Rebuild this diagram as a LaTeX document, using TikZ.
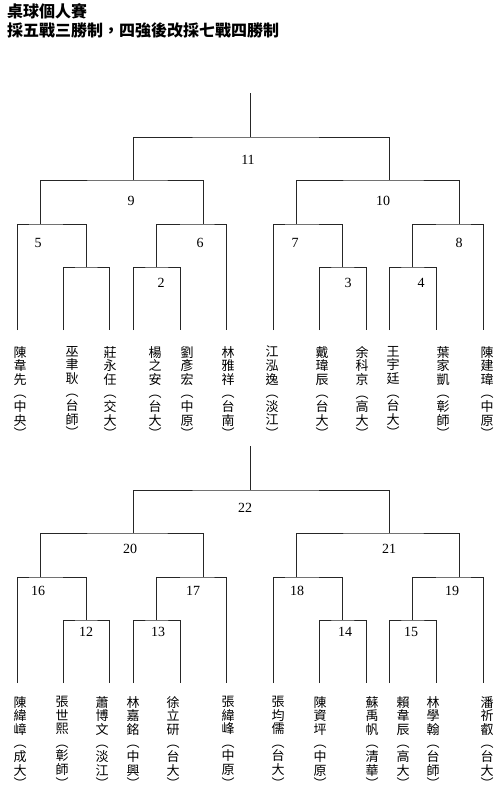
\documentclass[tikz,border=0pt]{standalone}
\usepackage{fontspec}
\setmainfont{Liberation Serif}
\newfontfamily\cjk{Noto Sans CJK TC}
\usetikzlibrary{positioning}
\tikzset{
  bracket/.style={draw=black!85, line width=0.8pt},
  roundlabel/.style={font=\fontsize{14}{14}\selectfont, inner sep=0pt},
  playername/.style={font=\cjk\fontsize{13}{13.6}\selectfont, align=center,
    anchor=north, inner sep=0pt},
  titletext/.style={font=\cjk\bfseries\fontsize{16}{16}\selectfont,
    anchor=north west, inner sep=0pt}
}
% one half of the draw: #1 is the prefix of the coordinate names
\newcommand{\drawtree}[1]{%
  \foreach \i/\x in {1/17,2/63,3/109,4/133,5/180,6/226,7/273,8/319,9/366,10/389,11/436,12/483}
    \coordinate (#1\i) at (\x,330);
  \coordinate (#1m1) at (86,267);
  \coordinate (#1m2) at (156.5,267);
  \coordinate (#1m3) at (342.5,267);
  \coordinate (#1m4) at (412.5,267);
  \coordinate (#1m5) at (40,224);
  \coordinate (#1m6) at (203,224);
  \coordinate (#1m7) at (296,224);
  \coordinate (#1m8) at (459,224);
  \coordinate (#1m9) at (133,180);
  \coordinate (#1m10) at (389,180);
  \coordinate (#1m11) at (250,137);
  \coordinate (#1top) at (250,93);
  \draw[bracket] (#12) |- (#1m1) -| (#13);
  \draw[bracket] (#14) |- (#1m2) -| (#15);
  \draw[bracket] (#18) |- (#1m3) -| (#19);
  \draw[bracket] (#110) |- (#1m4) -| (#111);
  \draw[bracket] (#11) |- (#1m5) -| (#1m1);
  \draw[bracket] (#1m2) |- (#1m6) -| (#16);
  \draw[bracket] (#17) |- (#1m7) -| (#1m3);
  \draw[bracket] (#1m4) |- (#1m8) -| (#112);
  \draw[bracket] (#1m5) |- (#1m9) -| (#1m6);
  \draw[bracket] (#1m7) |- (#1m10) -| (#1m8);
  \draw[bracket] (#1m9) |- (#1m11) -| (#1m10);
  \draw[bracket] (#1m11) -- (#1top);
}

\begin{document}
\begin{tikzpicture}[x=1pt,y=-1pt]
  \useasboundingbox (0,0) rectangle (500,792);
  \node[titletext] (title) at (7,3) {桌球個人賽};
  \node[titletext, below=4pt of title.south west, anchor=north west] (format)
    {採五戰三勝制，四強後改採七戰四勝制};

  % first round robin of the draw
  \drawtree{a}
  \node[roundlabel] (r11) at (248,160) {11};
  \node[roundlabel] (r9) at (131,201) {9};
  \node[roundlabel] (r10) at (383,201) {10};
  \node[roundlabel] (r5) at (38,243) {5};
  \node[roundlabel] (r6) at (200,243) {6};
  \node[roundlabel] (r7) at (295,243) {7};
  \node[roundlabel] (r8) at (459,243) {8};
  \node[roundlabel] (r2) at (161,283) {2};
  \node[roundlabel] (r3) at (348,283) {3};
  \node[roundlabel] (r4) at (421,283) {4};
  \foreach \x/\nm/\sch [count=\i] in {20/陳\\韋\\先/中\\央, 72/巫\\聿\\耿/台\\師,
      110/莊\\永\\任/交\\大, 155/楊\\之\\安/台\\大, 187/劉\\彥\\宏/中\\原,
      228/林\\雅\\祥/台\\南, 272/江\\泓\\逸/淡\\江, 322/戴\\瑋\\辰/台\\大,
      362/余\\科\\京/高\\大, 393/王\\宇\\廷/台\\大, 443/葉\\家\\凱/彰\\師,
      487/陳\\建\\瑋/中\\原}
    \node[playername] (pa\i) at (\x,346) {\nm\\︵\\\sch\\︶};

  % second half
  \begin{scope}[shift={(0,353)}]
    \drawtree{b}
  \end{scope}
  \node[roundlabel] (r22) at (245,508) {22};
  \node[roundlabel] (r20) at (130,549) {20};
  \node[roundlabel] (r21) at (389,549) {21};
  \node[roundlabel] (r16) at (38,591) {16};
  \node[roundlabel] (r17) at (193,591) {17};
  \node[roundlabel] (r18) at (297,591) {18};
  \node[roundlabel] (r19) at (452,591) {19};
  \node[roundlabel] (r12) at (86,632) {12};
  \node[roundlabel] (r13) at (158,632) {13};
  \node[roundlabel] (r14) at (345,632) {14};
  \node[roundlabel] (r15) at (411,632) {15};
  \foreach \x/\nm/\sch [count=\i] in {20/陳\\緯\\嶂/成\\大, 62/張\\世\\熙/彰\\師,
      102/蕭\\博\\文/淡\\江, 133/林\\嘉\\銘/中\\興, 173/徐\\立\\研/台\\大,
      228/張\\緯\\峰/中\\原, 278/張\\均\\儒/台\\大, 320/陳\\資\\坪/中\\原,
      372/蘇\\禹\\帆/清\\華, 403/賴\\韋\\辰/高\\大, 433/林\\學\\翰/台\\師,
      487/潘\\祈\\叡/台\\大}
    \node[playername] (pb\i) at (\x,696) {\nm\\︵\\\sch\\︶};
\end{tikzpicture}
\end{document}
